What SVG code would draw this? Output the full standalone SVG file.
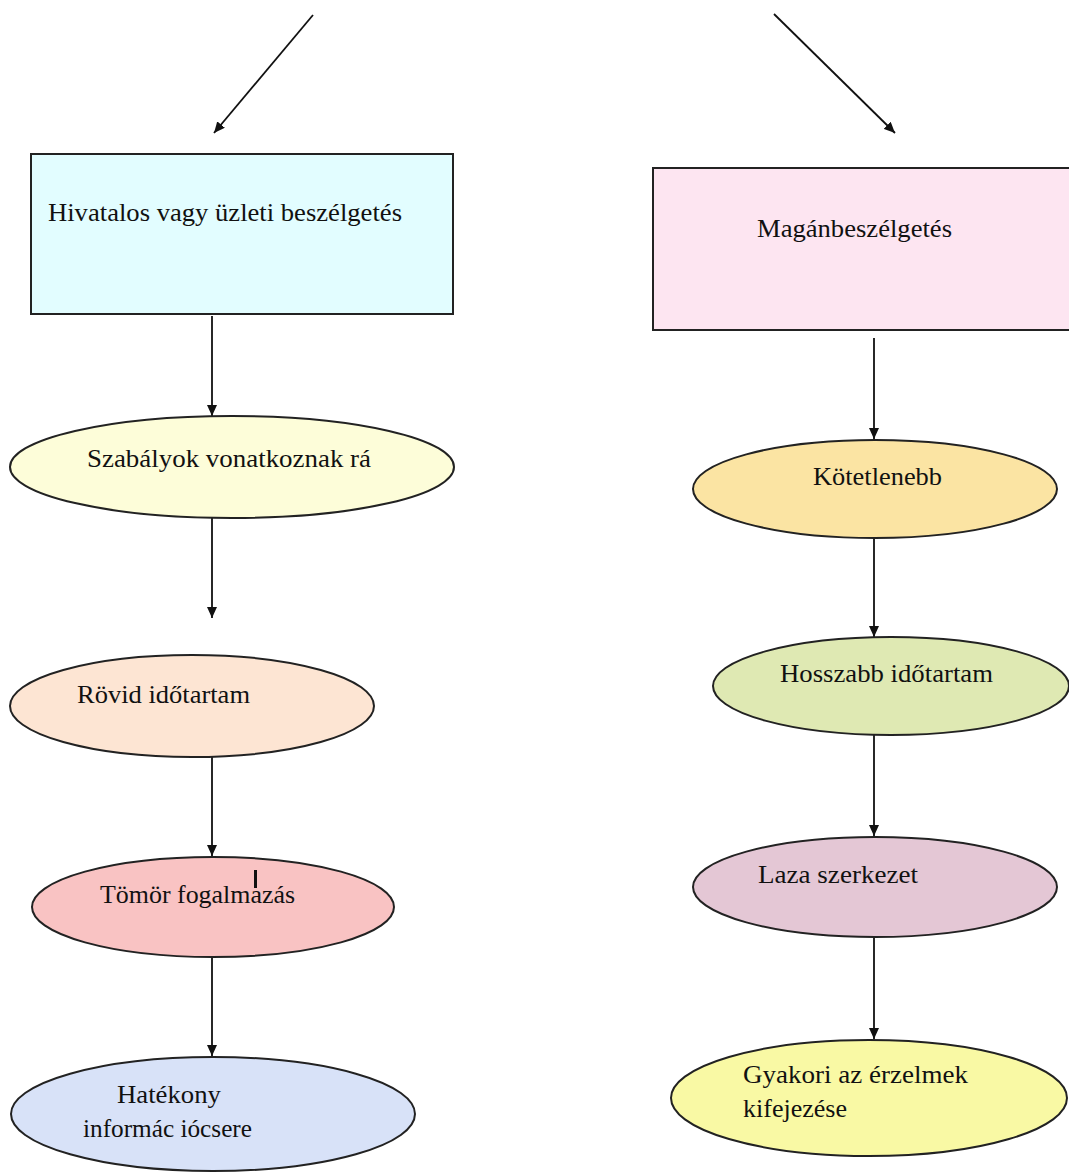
<svg xmlns="http://www.w3.org/2000/svg" width="1069" height="1173" viewBox="0 0 1069 1173">
<style>
.n{stroke:#222;stroke-width:2}
.t{font-family:"Liberation Serif","Times New Roman",serif;font-size:26px;fill:#111}
.c{stroke:#111;stroke-width:1.8;fill:none;marker-end:url(#ah)}
</style>
<defs>
<marker id="ah" markerUnits="userSpaceOnUse" markerWidth="12" markerHeight="10" refX="11" refY="5" orient="auto">
<path d="M0,0 L11,5 L0,10 z" fill="#111"/>
</marker>
</defs>
<rect width="1069" height="1173" fill="#fff"/>
<g id="connectors">
<line class="c" x1="313" y1="15" x2="214" y2="133"/>
<line class="c" x1="774" y1="14" x2="895" y2="133"/>
<line class="c" x1="212" y1="316" x2="212" y2="416"/>
<line class="c" x1="212" y1="518" x2="212" y2="618"/>
<line class="c" x1="212" y1="757" x2="212" y2="856"/>
<line class="c" x1="212" y1="957" x2="212" y2="1056"/>
<line class="c" x1="874" y1="338" x2="874" y2="439"/>
<line class="c" x1="874" y1="538" x2="874" y2="637"/>
<line class="c" x1="874" y1="735" x2="874" y2="836"/>
<line class="c" x1="874" y1="937" x2="874" y2="1039"/>
</g>
<g id="box-hivatalos">
<rect class="n" x="31" y="154" width="422" height="160" fill="#e2fdff"/>
<text class="t" x="48" y="221" textLength="354" lengthAdjust="spacingAndGlyphs">Hivatalos vagy üzleti beszélgetés</text>
</g>
<g id="box-magan">
<rect class="n" x="653" y="168" width="420" height="162" fill="#fde5f1"/>
<text class="t" x="757" y="237" textLength="195" lengthAdjust="spacingAndGlyphs">Magánbeszélgetés</text>
</g>
<g id="ell-szabalyok">
<ellipse class="n" cx="232" cy="467" rx="222" ry="51" fill="#fdfdd9"/>
<text class="t" x="87" y="467" textLength="284" lengthAdjust="spacingAndGlyphs">Szabályok vonatkoznak rá</text>
</g>
<g id="ell-rovid">
<ellipse class="n" cx="192" cy="706" rx="182" ry="51" fill="#fde5d3"/>
<text class="t" x="77" y="703" textLength="173" lengthAdjust="spacingAndGlyphs">Rövid időtartam</text>
</g>
<g id="ell-tomor">
<ellipse class="n" cx="213" cy="907" rx="181" ry="50" fill="#f9c3c3"/>
<text class="t" x="100" y="903" textLength="195" lengthAdjust="spacingAndGlyphs">Tömör fogalmazás</text>
<rect x="254" y="870" width="3" height="18" fill="#111"/>
</g>
<g id="ell-hatekony">
<ellipse class="n" cx="213" cy="1114" rx="202" ry="57" fill="#d8e2f8"/>
<text class="t" x="117" y="1103" textLength="104" lengthAdjust="spacingAndGlyphs">Hatékony</text>
<text class="t" x="83" y="1137" textLength="169" lengthAdjust="spacingAndGlyphs">informác iócsere</text>
</g>
<g id="ell-kotetlenebb">
<ellipse class="n" cx="875" cy="489" rx="182" ry="49" fill="#fbe4a3"/>
<text class="t" x="813" y="485" textLength="129" lengthAdjust="spacingAndGlyphs">Kötetlenebb</text>
</g>
<g id="ell-hosszabb">
<ellipse class="n" cx="891" cy="686" rx="178" ry="49" fill="#dfe9b3"/>
<text class="t" x="780" y="682" textLength="213" lengthAdjust="spacingAndGlyphs">Hosszabb időtartam</text>
</g>
<g id="ell-laza">
<ellipse class="n" cx="875" cy="887" rx="182" ry="50" fill="#e4c7d5"/>
<text class="t" x="758" y="883" textLength="160" lengthAdjust="spacingAndGlyphs">Laza szerkezet</text>
</g>
<g id="ell-gyakori">
<ellipse class="n" cx="869" cy="1098" rx="198" ry="58" fill="#f9f9a4"/>
<text class="t" x="743" y="1083" textLength="225" lengthAdjust="spacingAndGlyphs">Gyakori az érzelmek</text>
<text class="t" x="743" y="1117" textLength="104" lengthAdjust="spacingAndGlyphs">kifejezése</text>
</g>
</svg>
